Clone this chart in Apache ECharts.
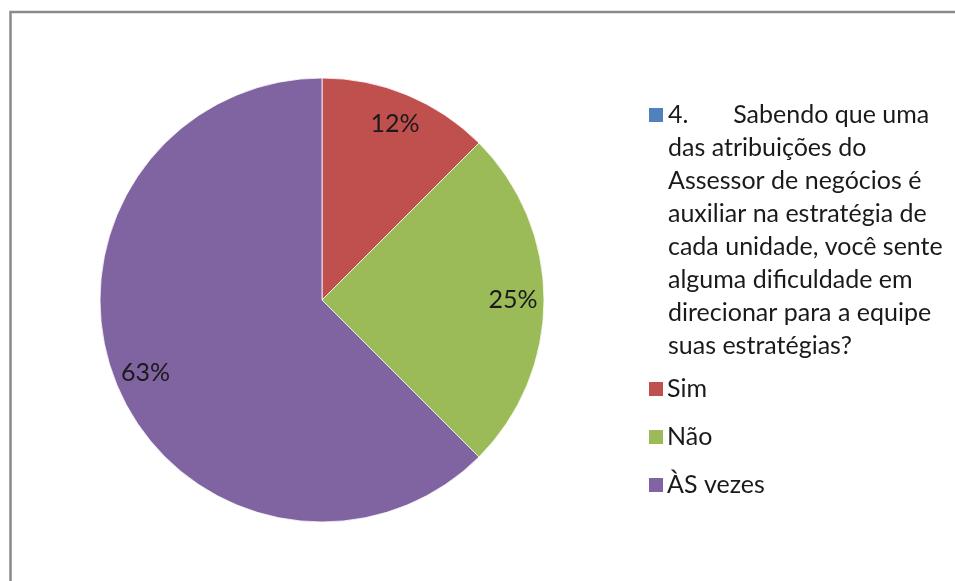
<!DOCTYPE html>
<html>
<head>
<meta charset="utf-8">
<script src="https://cdn.jsdelivr.net/npm/echarts@6/dist/echarts.min.js"></script>
<style>
html,body{margin:0;padding:0;background:#fff;}
#chart{width:955px;height:581px;}
</style>
</head>
<body>
<div id="chart"></div>
<script>
// Data
const categories = [
  "4.       Sabendo que uma\ndas atribuições do\nAssessor de negócios é\nauxiliar na estratégia de\ncada unidade, você sente\nalguma dificuldade em\ndirecionar para a equipe\nsuas estratégias?",
  "Sim",
  "Não",
  "ÀS vezes"
];
const values = [0, 12.5, 25, 62.5];
const percentLabels = ["", "12%", "25%", "63%"];
const colors = ["#4F81BD", "#C0504D", "#9BBB59", "#8064A2"];

const FONT = "Lato";
const FS = 25;
const LH = 33;

const chart = echarts.init(document.getElementById('chart'), null, {renderer: 'canvas'});

const mainData = categories.map((c, i) => ({
  name: c, value: values[i], itemStyle: {color: colors[i]}
}));
const labelData = categories.map((c, i) => ({
  name: c, value: values[i]
}));

chart.setOption({
  animation: false,
  backgroundColor: '#fff',
  graphic: [{
    type: 'rect',
    shape: {x: 10.5, y: 12, width: 1200, height: 1200},
    style: {fill: 'none', stroke: '#8a8a8a', lineWidth: 2.5},
    silent: true, z: 100
  }],
  legend: [{
    data: [categories[0]],
    orient: 'vertical',
    left: 649, top: 98,
    padding: 0,
    itemWidth: 14, itemHeight: 8 * LH,
    icon: 'path://M0,0M0,10h14v14h-14zM14,264',
    itemStyle: {borderWidth: 0},
    selectedMode: false,
    textStyle: {fontFamily: FONT, fontSize: FS, lineHeight: LH, color: '#1a1a1a'}
  }, {
    data: categories.slice(1),
    orient: 'vertical',
    left: 649, top: 372.5,
    padding: 0,
    itemWidth: 14, itemHeight: 14,
    itemGap: 15,
    icon: 'rect',
    itemStyle: {borderWidth: 0},
    selectedMode: false,
    textStyle: {fontFamily: FONT, fontSize: FS, lineHeight: LH, color: '#1a1a1a', padding: [0, 0, 0, -1]}
  }],
  series: [{
    type: 'pie',
    center: [322, 300],
    radius: [0, 222],
    startAngle: 90,
    clockwise: true,
    data: mainData,
    label: {show: false},
    labelLine: {show: false},
    itemStyle: {borderColor: '#ffffff', borderWidth: 0.8},
    emphasis: {disabled: true}
  }, {
    type: 'pie',
    center: [322, 300],
    radius: [154, 222],
    startAngle: 90,
    clockwise: true,
    silent: true,
    data: labelData,
    itemStyle: {color: 'rgba(0,0,0,0)'},
    label: {
      show: true,
      position: 'inside',
      fontFamily: FONT, fontSize: FS, color: '#1a1a1a',
      formatter: p => percentLabels[p.dataIndex]
    },
    labelLine: {show: false},
    emphasis: {disabled: true}
  }]
});
</script>
</body>
</html>
